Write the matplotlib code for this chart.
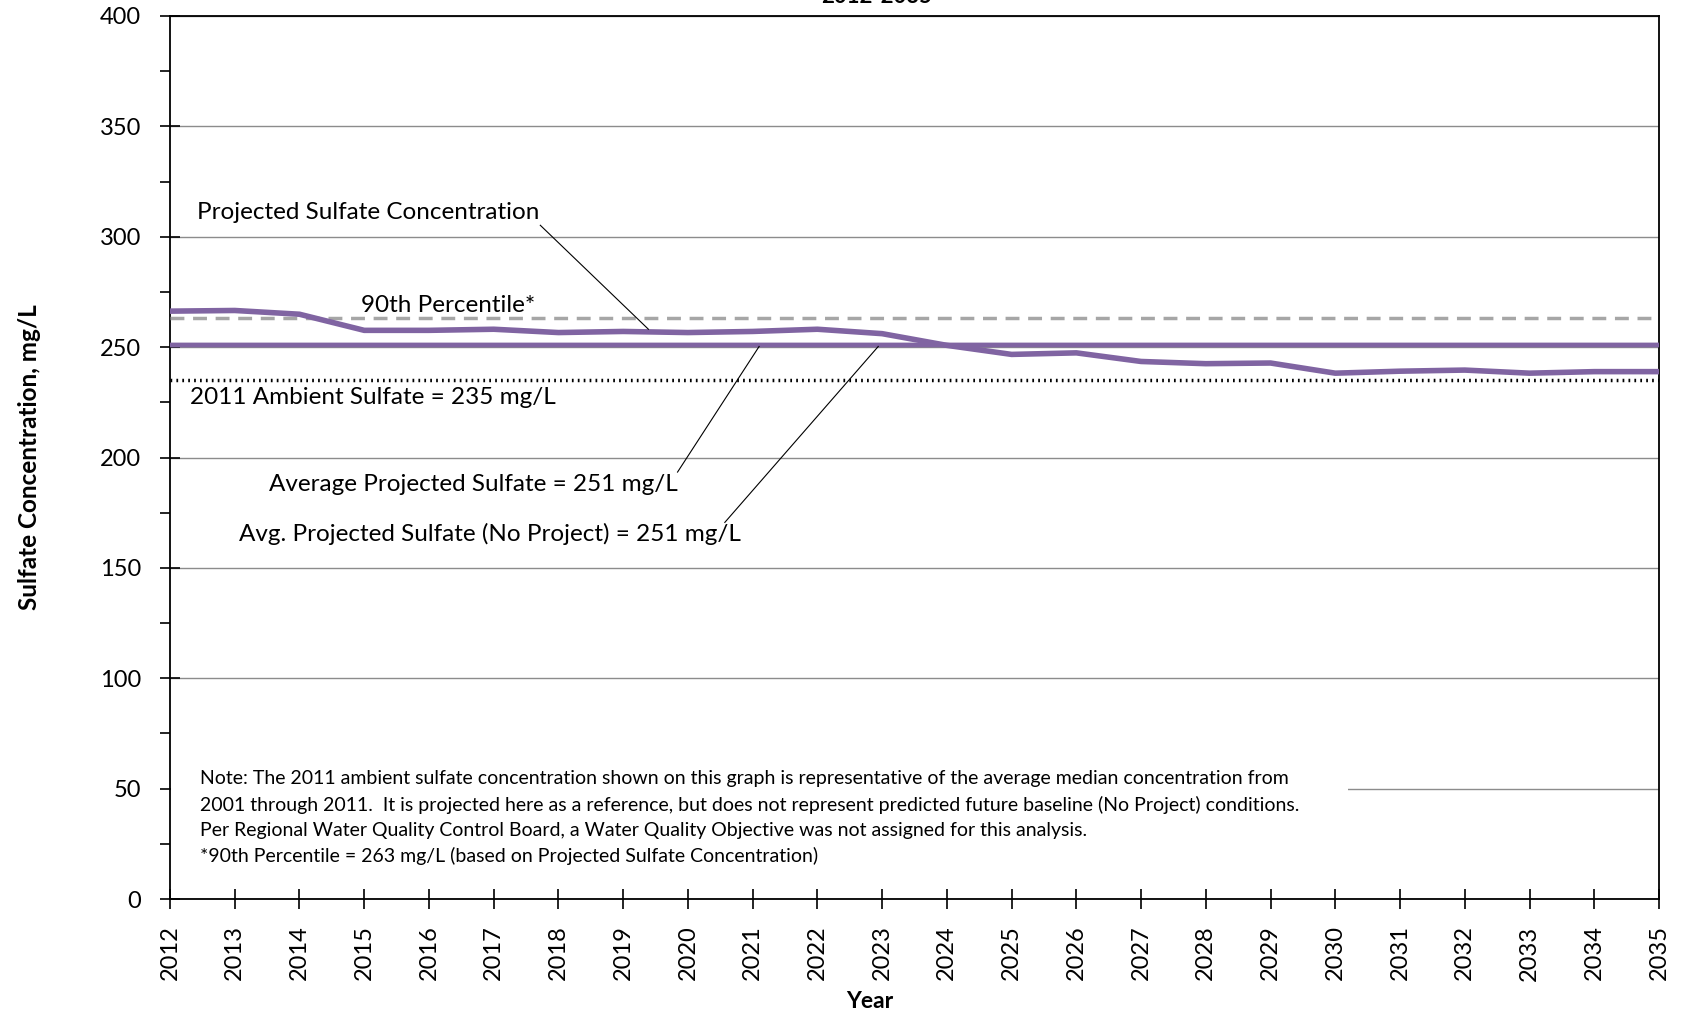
import numpy as np
import matplotlib
matplotlib.use("Agg")
import matplotlib.pyplot as plt
from matplotlib.patches import Rectangle

plt.rcParams['font.family'] = ['Lato', 'DejaVu Sans']

# data
years = list(range(2012, 2036))
projected = [266.3, 266.6, 264.9, 257.6, 257.6, 258.1, 256.6, 257.1, 256.6, 257.1, 258.1, 256.1,
             250.8, 246.7, 247.4, 243.5, 242.5, 242.8, 238.2, 239.1, 239.6, 238.2, 238.9, 238.9]
avg_projected = 251
avg_no_project = 251
pct90 = 263
ambient_2011 = 235

purple = '#8064A2'

fig = plt.figure(figsize=(16.83, 10.14), dpi=100)
ax = fig.add_axes([170/1683, 1-899/1014, (1659-170)/1683, (899-16)/1014])
ax.set_axisbelow(True)

ax.plot(years, [avg_no_project]*len(years), color=purple, lw=3.2, zorder=3)
ax.plot(years, [avg_projected]*len(years), color=purple, lw=3.2, zorder=3)
ax.plot(years, [pct90]*len(years), color='#A6A6A6', lw=2.5, ls=(0, (4, 2.5)), zorder=3)
ax.plot(years, [ambient_2011]*len(years), color='black', lw=2.5, ls=(0, (0.5, 1.2)), zorder=3)
ax.plot(years, projected, color=purple, lw=4, zorder=4, solid_joinstyle='round')

ax.set_xlim(2012, 2035)
ax.set_ylim(0, 400)
ax.set_xticks(years)
ax.set_xticklabels([str(y) for y in years], rotation=90)
ax.set_yticks(range(0, 401, 50))
ax.set_yticks(range(25, 400, 50), minor=True)
ax.yaxis.grid(True, which='major', color='#8c8c8c', lw=1)
ax.tick_params(axis='both', which='major', direction='inout', length=14, width=1.2,
               labelsize=17)
ax.tick_params(axis='x', which='major', pad=12)
ax.tick_params(axis='y', which='major', pad=14)
ax.tick_params(axis='y', which='minor', direction='out', length=7, width=1.2)
for s in ax.spines.values():
    s.set_linewidth(1.3)

# white box behind the note
ax.add_patch(Rectangle((2012.02, 8), 2030.2 - 2012.02, 55, facecolor='white',
                       edgecolor='none', zorder=1))

ax.set_ylabel('Sulfate Concentration, mg/L', fontsize=17.5, fontweight='bold', labelpad=42)
ax.set_xlabel('Year', fontsize=16.5, fontweight='bold', labelpad=8)
ax.xaxis.set_label_coords(0.470, -0.1)
ax.xaxis.label.set_va('center')
ax.xaxis.set_label_coords(0.470, -(1001 - 899) / 883)

fs = 17.5
ax.text(2012.41, 311.1, 'Projected Sulfate Concentration', fontsize=fs, va='center', zorder=5)
ax.plot([2017.72, 2019.39], [305.2, 258.1], color='black', lw=0.8, zorder=5)
ax.text(2014.95, 268.8, '90th Percentile*', fontsize=fs, va='center', zorder=5)
ax.text(2012.31, 227.0, '2011 Ambient Sulfate = 235 mg/L', fontsize=fs, va='center', zorder=5)
ax.text(2019.84, 187.6, 'Average Projected Sulfate = 251 mg/L', fontsize=fs, va='center',
        ha='right', zorder=5)
ax.plot([2019.84, 2021.10], [193.4, 250.3], color='black', lw=0.8, zorder=5)
ax.text(2020.82, 165.2, 'Avg. Projected Sulfate (No Project) = 251 mg/L', fontsize=fs,
        va='center', ha='right', zorder=5)
ax.plot([2020.57, 2022.94], [170.6, 250.3], color='black', lw=0.8, zorder=5)

note_lines = [
    'Note: The 2011 ambient sulfate concentration shown on this graph is representative of the average median concentration from',
    '2001 through 2011.  It is projected here as a reference, but does not represent predicted future baseline (No Project) conditions.',
    'Per Regional Water Quality Control Board, a Water Quality Objective was not assigned for this analysis.',
    '*90th Percentile = 263 mg/L (based on Projected Sulfate Concentration)',
]
note_y = [54.4, 42.8, 31.1, 19.4]
for t, yy in zip(note_lines, note_y):
    ax.text(2012.46, yy, t, fontsize=14, va='center', zorder=5)

fig.text(877/1683, 1 - 3/1014, '2012-2035', fontsize=16, fontweight='bold',
         ha='center', va='baseline')

fig.savefig('out.png', dpi=100)
